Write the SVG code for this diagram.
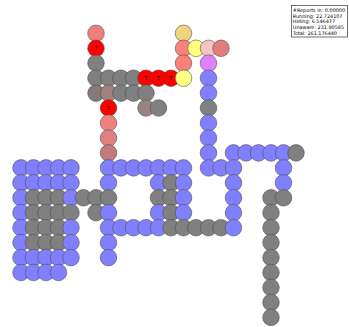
<svg xmlns="http://www.w3.org/2000/svg" width="349" height="327" viewBox="0 0 349 327">
<style>
circle{stroke:#4a4a4a;stroke-width:0.7;stroke-opacity:0.8}
.b{fill:#8080ff}.g{fill:#808080}.g2{fill:#857b7b}.r{fill:#ff0000}.lc{fill:#f08080}.kh{fill:#f0d27f}
.sal{fill:#fb8078}.yel{fill:#ffff80}.pnk{fill:#f4c4c4}.rose{fill:#e07e7e}.vio{fill:#e080ff}
.mv{fill:#a08080}.mv2{fill:#978282}.r7{fill:#de8080}.r8{fill:#c27b7b}
.t{font-family:"DejaVu Sans",sans-serif;font-size:5px;text-anchor:middle;fill:#000}
.lg{font-family:"DejaVu Sans",sans-serif;font-size:4.9px;fill:#000}
</style>
<rect width="349" height="327" fill="#fff"/>
<g id="points">
<circle class="b" cx="21" cy="167.9" r="8.3"/><circle class="b" cx="21" cy="182.8" r="8.3"/><circle class="b" cx="21" cy="197.8" r="8.3"/><circle class="b" cx="21" cy="212.7" r="8.3"/><circle class="b" cx="21" cy="227.7" r="8.3"/><circle class="b" cx="21" cy="242.6" r="8.3"/><circle class="b" cx="21" cy="257.6" r="8.3"/><circle class="b" cx="21" cy="272.5" r="8.3"/>
<circle class="b" cx="33.5" cy="167.9" r="8.3"/><circle class="b" cx="33.5" cy="182.8" r="8.3"/><circle class="g" cx="33.5" cy="197.8" r="8.3"/><circle class="g" cx="33.5" cy="212.7" r="8.3"/><circle class="g" cx="33.5" cy="227.7" r="8.3"/><circle class="g" cx="33.5" cy="242.6" r="8.3"/><circle class="b" cx="33.5" cy="257.6" r="8.3"/><circle class="b" cx="33.5" cy="272.5" r="8.3"/>
<circle class="b" cx="46" cy="167.9" r="8.3"/><circle class="b" cx="46" cy="182.8" r="8.3"/><circle class="g" cx="46" cy="197.8" r="8.3"/><circle class="g" cx="46" cy="212.7" r="8.3"/><circle class="g" cx="46" cy="227.7" r="8.3"/><circle class="g" cx="46" cy="242.6" r="8.3"/><circle class="b" cx="46" cy="257.6" r="8.3"/><circle class="b" cx="46" cy="272.5" r="8.3"/>
<circle class="b" cx="58.5" cy="167.9" r="8.3"/><circle class="b" cx="58.5" cy="182.8" r="8.3"/><circle class="g" cx="58.5" cy="197.8" r="8.3"/><circle class="g" cx="58.5" cy="212.7" r="8.3"/><circle class="g" cx="58.5" cy="227.7" r="8.3"/><circle class="g" cx="58.5" cy="242.6" r="8.3"/><circle class="b" cx="58.5" cy="257.6" r="8.3"/><circle class="b" cx="58.5" cy="272.5" r="8.3"/>
<circle class="b" cx="71" cy="167.9" r="8.3"/><circle class="b" cx="71" cy="182.8" r="8.3"/><circle class="b" cx="71" cy="197.8" r="8.3"/><circle class="g" cx="71" cy="212.7" r="8.3"/><circle class="b" cx="71" cy="227.7" r="8.3"/><circle class="b" cx="71" cy="242.6" r="8.3"/><circle class="b" cx="71" cy="257.6" r="8.3"/>
<circle class="g" cx="83.5" cy="197.8" r="8.3"/>
<circle class="lc" cx="96" cy="33.3" r="8.3"/><circle class="r" cx="96" cy="48.3" r="8.3"/><circle class="g" cx="96" cy="63.2" r="8.3"/><circle class="g" cx="96" cy="78.2" r="8.3"/><circle class="g2" cx="96" cy="93.1" r="8.3"/><circle class="g" cx="96" cy="197.8" r="8.3"/><circle class="g" cx="96" cy="212.7" r="8.3"/>
<circle class="g" cx="108.5" cy="78.2" r="8.3"/><circle class="mv" cx="108.5" cy="93.1" r="8.3"/><circle class="r" cx="108.5" cy="108" r="8.3"/><circle class="lc" cx="108.5" cy="123" r="8.3"/><circle class="r7" cx="108.5" cy="138" r="8.3"/><circle class="r8" cx="108.5" cy="152.9" r="8.3"/><circle class="b" cx="108.5" cy="167.9" r="8.3"/><circle class="b" cx="108.5" cy="182.8" r="8.3"/><circle class="g" cx="108.5" cy="197.8" r="8.3"/><circle class="b" cx="108.5" cy="212.7" r="8.3"/><circle class="b" cx="108.5" cy="227.7" r="8.3"/><circle class="b" cx="108.5" cy="242.6" r="8.3"/><circle class="b" cx="108.5" cy="257.6" r="8.3"/>
<circle class="g" cx="121" cy="78.2" r="8.3"/><circle class="g" cx="121" cy="93.1" r="8.3"/><circle class="b" cx="121" cy="167.9" r="8.3"/><circle class="b" cx="121" cy="227.7" r="8.3"/>
<circle class="g" cx="133.5" cy="78.2" r="8.3"/><circle class="g" cx="133.5" cy="93.1" r="8.3"/><circle class="b" cx="133.5" cy="167.9" r="8.3"/><circle class="b" cx="133.5" cy="227.7" r="8.3"/>
<circle class="r" cx="146" cy="78.2" r="8.3"/><circle class="g" cx="146" cy="93.1" r="8.3"/><circle class="mv2" cx="146" cy="108" r="8.3"/><circle class="b" cx="146" cy="167.9" r="8.3"/><circle class="b" cx="146" cy="227.7" r="8.3"/>
<circle class="r" cx="158.5" cy="78.2" r="8.3"/><circle class="g" cx="158.5" cy="108" r="8.3"/><circle class="b" cx="158.5" cy="167.9" r="8.3"/><circle class="b" cx="158.5" cy="182.8" r="8.3"/><circle class="g" cx="158.5" cy="197.8" r="8.3"/><circle class="b" cx="158.5" cy="212.7" r="8.3"/><circle class="b" cx="158.5" cy="227.7" r="8.3"/>
<circle class="r" cx="171" cy="78.2" r="8.3"/><circle class="b" cx="171" cy="167.9" r="8.3"/><circle class="g" cx="171" cy="182.8" r="8.3"/><circle class="g" cx="171" cy="197.8" r="8.3"/><circle class="g" cx="171" cy="212.7" r="8.3"/><circle class="g" cx="171" cy="227.7" r="8.3"/>
<circle class="kh" cx="183.5" cy="33.3" r="8.3"/><circle class="sal" cx="183.5" cy="48.3" r="8.3"/><circle class="sal" cx="183.5" cy="63.2" r="8.3"/><circle class="yel" cx="183.5" cy="78.2" r="8.3"/><circle class="b" cx="183.5" cy="167.9" r="8.3"/><circle class="b" cx="183.5" cy="182.8" r="8.3"/><circle class="b" cx="183.5" cy="197.8" r="8.3"/><circle class="b" cx="183.5" cy="212.7" r="8.3"/><circle class="g" cx="183.5" cy="227.7" r="8.3"/>
<circle class="yel" cx="196" cy="48.3" r="8.3"/><circle class="g" cx="196" cy="227.7" r="8.3"/>
<circle class="pnk" cx="208.5" cy="48.3" r="8.3"/><circle class="vio" cx="208.5" cy="63.2" r="8.3"/><circle class="b" cx="208.5" cy="78.2" r="8.3"/><circle class="b" cx="208.5" cy="93.1" r="8.3"/><circle class="g" cx="208.5" cy="108" r="8.3"/><circle class="b" cx="208.5" cy="123" r="8.3"/><circle class="b" cx="208.5" cy="138" r="8.3"/><circle class="b" cx="208.5" cy="152.9" r="8.3"/><circle class="b" cx="208.5" cy="167.9" r="8.3"/><circle class="g" cx="208.5" cy="227.7" r="8.3"/>
<circle class="rose" cx="221" cy="48.3" r="8.3"/><circle class="b" cx="221" cy="167.9" r="8.3"/><circle class="g" cx="221" cy="227.7" r="8.3"/>
<circle class="b" cx="233.5" cy="152.9" r="8.3"/><circle class="b" cx="233.5" cy="167.9" r="8.3"/><circle class="b" cx="233.5" cy="182.8" r="8.3"/><circle class="b" cx="233.5" cy="197.8" r="8.3"/><circle class="b" cx="233.5" cy="212.7" r="8.3"/><circle class="b" cx="233.5" cy="227.7" r="8.3"/>
<circle class="b" cx="246" cy="152.9" r="8.3"/>
<circle class="b" cx="258.5" cy="152.9" r="8.3"/>
<circle class="b" cx="271" cy="152.9" r="8.3"/><circle class="g" cx="271" cy="197.8" r="8.3"/><circle class="g" cx="271" cy="212.7" r="8.3"/><circle class="g" cx="271" cy="227.7" r="8.3"/><circle class="g" cx="271" cy="242.6" r="8.3"/><circle class="g" cx="271" cy="257.6" r="8.3"/><circle class="g" cx="271" cy="272.5" r="8.3"/><circle class="g" cx="271" cy="287.5" r="8.3"/><circle class="g" cx="271" cy="302.4" r="8.3"/><circle class="g" cx="271" cy="317.4" r="8.3"/>
<circle class="b" cx="283.5" cy="152.9" r="8.3"/><circle class="b" cx="283.5" cy="167.9" r="8.3"/><circle class="b" cx="283.5" cy="182.8" r="8.3"/><circle class="g" cx="283.5" cy="197.8" r="8.3"/>
<circle class="g" cx="296" cy="152.9" r="8.3"/>
</g>
<g id="labels">
<text class="t" x="96" y="50.1">T</text>
<text class="t" x="108.5" y="109.8">T</text>
<text class="t" x="146" y="80">T</text>
<text class="t" x="158.5" y="80">T</text>
<text class="t" x="171" y="80">T</text>
</g>
<g id="legend">
<rect x="291.5" y="5.5" width="56" height="31.5" fill="#fff" stroke="#333" stroke-width="0.7"/>
<text class="lg" x="292.8" y="11.8">#Reports in: 0.00000</text>
<text class="lg" x="292.8" y="17.6">Running: 22.724107</text>
<text class="lg" x="292.8" y="23.4">Hiding: 6.546477</text>
<text class="lg" x="292.8" y="29.2">Unaware: 231.90585</text>
<text class="lg" x="292.8" y="35">Total: 261.176440</text>
</g>
</svg>
